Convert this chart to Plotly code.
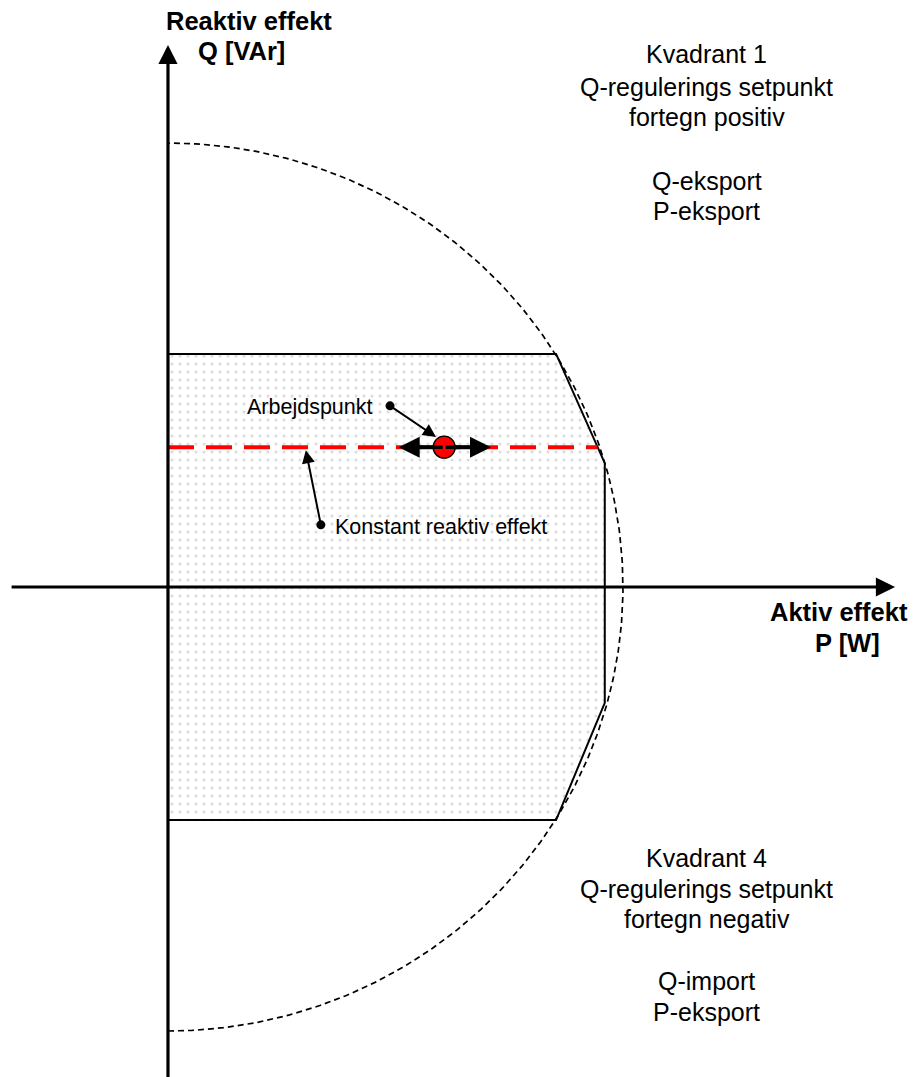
import numpy as np
import plotly.graph_objects as go

# ---- data (per-unit P/Q plane, circle radius = 1) ----
cap_P = [0.0, 0.853, 0.960, 0.960, 0.853, 0.0, 0.0]
cap_Q = [0.525, 0.525, 0.279, -0.261, -0.525, -0.525, 0.525]
S_radius = 1.0
Q_setpoint = 0.315
P_work = 0.607
P_work_range = [0.507, 0.710]
P_line_end = 0.944

quad1_text = ["Kvadrant 1", "Q-regulerings setpunkt", "fortegn positiv", "Q-eksport", "P-eksport"]
quad1_y = [1.2005, 1.1261, 1.0586, 0.9144, 0.8468]
quad4_text = ["Kvadrant 4", "Q-regulerings setpunkt", "fortegn negativ", "Q-import", "P-eksport"]
quad4_y = [-0.6104, -0.6802, -0.7477, -0.8874, -0.9572]
label_work = "Arbejdspunkt"
label_const = "Konstant reaktiv effekt"
xlabel = ["Aktiv effekt", "P [W]"]
ylabel = ["Reaktiv effekt", "Q [VAr]"]

FONT = "Liberation Sans, Arial, sans-serif"

fig = go.Figure()

# capability polygon with dotted fill
fig.add_trace(go.Scatter(
    x=cap_P, y=cap_Q, mode="lines", fill="toself",
    line=dict(color="black", width=2),
    fillcolor="white",
    fillpattern=dict(shape=".", fgcolor="#b8b8b8", bgcolor="white", size=8, solidity=0.12),
    hoverinfo="skip", showlegend=False))

# dashed semicircle
th = np.linspace(-np.pi / 2, np.pi / 2, 361)
fig.add_trace(go.Scatter(
    x=S_radius * np.cos(th), y=S_radius * np.sin(th), mode="lines",
    line=dict(color="black", width=1.7, dash="6px,4px"),
    hoverinfo="skip", showlegend=False))

# constant reactive power line
fig.add_trace(go.Scatter(
    x=[0.0, P_line_end], y=[Q_setpoint, Q_setpoint], mode="lines",
    line=dict(color="#ff0000", width=4, dash="26px,12px"),
    hoverinfo="skip", showlegend=False))

# horizontal movement line at working point
fig.add_trace(go.Scatter(
    x=[P_work_range[0] + 0.02, P_work_range[1] - 0.02], y=[Q_setpoint, Q_setpoint], mode="lines",
    line=dict(color="black", width=4),
    hoverinfo="skip", showlegend=False))

# annotation dots
dot_work = (0.488, 0.408)
dot_const = (0.336, 0.140)
fig.add_trace(go.Scatter(
    x=[dot_work[0], dot_const[0]], y=[dot_work[1], dot_const[1]], mode="markers",
    marker=dict(color="black", size=9),
    hoverinfo="skip", showlegend=False))

annotations = []
# movement arrows
for xe in P_work_range:
    annotations.append(dict(x=xe, y=Q_setpoint, ax=P_work, ay=Q_setpoint,
                            xref="x", yref="y", axref="x", ayref="y", text="",
                            showarrow=True, arrowhead=2, arrowsize=1.2, arrowwidth=3.5,
                            arrowcolor="black", standoff=0))
# pointer arrows
annotations.append(dict(x=0.589, y=0.338, ax=dot_work[0], ay=dot_work[1],
                        xref="x", yref="y", axref="x", ayref="y", text="",
                        showarrow=True, arrowhead=2, arrowsize=1.3, arrowwidth=2,
                        arrowcolor="black", standoff=0))
annotations.append(dict(x=0.303, y=0.308, ax=dot_const[0], ay=dot_const[1],
                        xref="x", yref="y", axref="x", ayref="y", text="",
                        showarrow=True, arrowhead=2, arrowsize=1.3, arrowwidth=2,
                        arrowcolor="black", standoff=0))

# coordinate axes with arrows
annotations.append(dict(x=1.598, y=0, ax=-0.347, ay=0, xref="x", yref="y", axref="x", ayref="y",
                        text="", showarrow=True, arrowhead=2, arrowsize=1.2, arrowwidth=3.2,
                        arrowcolor="black", standoff=0))
annotations.append(dict(x=0, y=1.221, ax=0, ay=-1.11, xref="x", yref="y", axref="x", ayref="y",
                        text="", showarrow=True, arrowhead=2, arrowsize=1.2, arrowwidth=3.2,
                        arrowcolor="black", standoff=0))

fig.add_trace(go.Scatter(
    x=[P_work], y=[Q_setpoint], mode="markers",
    marker=dict(color="#ff0000", size=22, line=dict(color="black", width=1.3)),
    hoverinfo="skip", showlegend=False))

# texts
for t, yy in zip(quad1_text, quad1_y):
    annotations.append(dict(x=1.1846, y=yy, xref="x", yref="y", text=t, showarrow=False,
                            font=dict(family=FONT, size=25, color="black")))
for t, yy in zip(quad4_text, quad4_y):
    annotations.append(dict(x=1.1846, y=yy, xref="x", yref="y", text=t, showarrow=False,
                            font=dict(family=FONT, size=25, color="black")))
annotations.append(dict(x=0.455, y=0.4054, xref="x", yref="y", text=label_work, xanchor="right",
                        showarrow=False, font=dict(family=FONT, size=21.5, color="black")))
annotations.append(dict(x=0.3626, y=0.1351, xref="x", yref="y", text=label_const, xanchor="left",
                        showarrow=False, font=dict(family=FONT, size=21.5, color="black")))
annotations.append(dict(x=1.6308, y=-0.0563, xref="x", yref="y", text="<b>" + xlabel[0] + "</b>",
                        showarrow=False, xanchor="right",
                        font=dict(family=FONT, size=25.5, color="black")))
annotations.append(dict(x=1.4945, y=-0.1261, xref="x", yref="y", text="<b>" + xlabel[1] + "</b>",
                        showarrow=False,
                        font=dict(family=FONT, size=25.5, color="black")))
annotations.append(dict(x=0.178, y=1.2748, xref="x", yref="y", text="<b>" + ylabel[0] + "</b>",
                        showarrow=False,
                        font=dict(family=FONT, size=25.5, color="black")))
annotations.append(dict(x=0.1626, y=1.2072, xref="x", yref="y", text="<b>" + ylabel[1] + "</b>",
                        showarrow=False,
                        font=dict(family=FONT, size=25.5, color="black")))

# figure is placed with the page's default 8px body margin
fig.update_layout(
    width=909, height=1069,
    margin=dict(l=0, r=0, t=0, b=0),
    plot_bgcolor="white", paper_bgcolor="white",
    xaxis=dict(range=[-0.3516, 1.6462], visible=False, fixedrange=True),
    yaxis=dict(range=[-1.1036, 1.3041], visible=False, fixedrange=True),
    annotations=annotations,
    showlegend=False,
)

fig.write_html("out.html")
